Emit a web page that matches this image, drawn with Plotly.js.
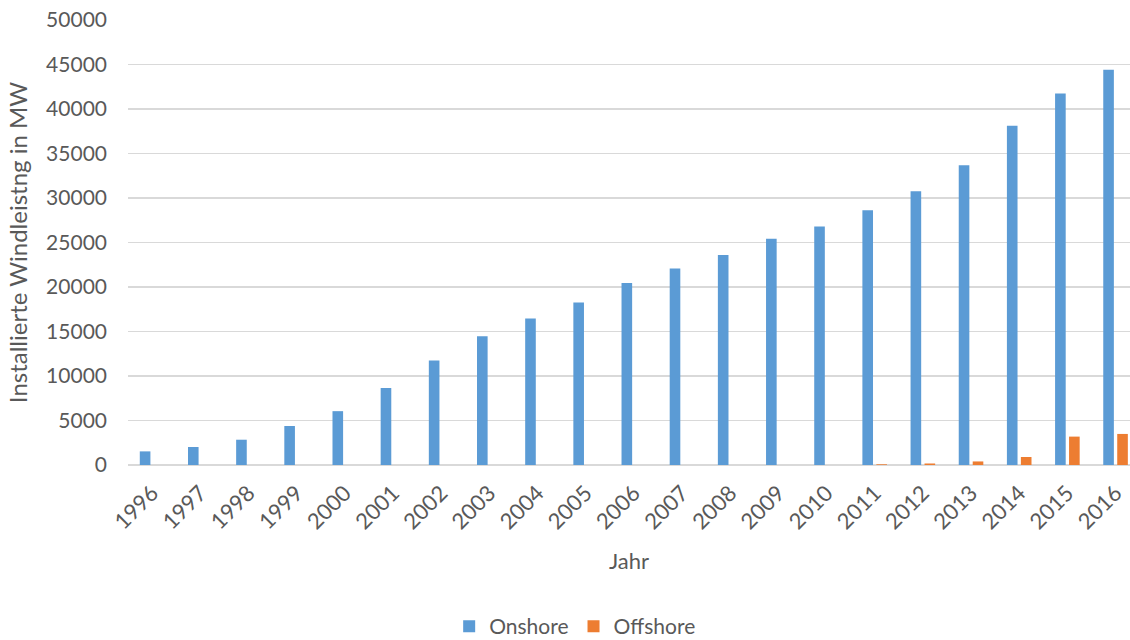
<!DOCTYPE html>
<html>
<head>
<meta charset="utf-8">
<script src="https://cdn.plot.ly/plotly-3.0.1.min.js"></script>
<style>
  html, body { margin: 0; padding: 0; background: #ffffff; }
  #chart { width: 1130px; height: 640px; }
</style>
</head>
<body>
<div id="chart"></div>
<script>
// Installed wind capacity in Germany (MW), onshore vs. offshore
const years = ['1996','1997','1998','1999','2000','2001','2002','2003','2004','2005','2006',
               '2007','2008','2009','2010','2011','2012','2013','2014','2015','2016'];
const onshore = [1530, 2020, 2840, 4380, 6050, 8650, 11750, 14480, 16450, 18250, 20450,
                 22070, 23600, 25420, 26790, 28620, 30760, 33680, 38110, 41750, 44410];
const offshore = [0, 0, 0, 0, 0, 0, 0, 0, 0, 0, 0,
                  0, 0, 0, 0, 80, 170, 400, 900, 3190, 3490];
const yTicks = [0, 5000, 10000, 15000, 20000, 25000, 30000, 35000, 40000, 45000, 50000];

const fontFamily = 'Lato, "Open Sans", sans-serif';
const textColor = '#595959';

const traces = [
  {
    type: 'bar', name: 'Onshore', x: years, y: onshore,
    marker: { color: '#5B9BD5' }, hoverinfo: 'x+y'
  },
  {
    type: 'bar', name: 'Offshore', x: years, y: offshore,
    marker: { color: '#ED7D31' }, hoverinfo: 'x+y'
  }
];

const layout = {
  width: 1130, height: 640,
  margin: { l: 128, r: 0, t: 20, b: 175 },
  paper_bgcolor: '#ffffff', plot_bgcolor: '#ffffff',
  font: { family: fontFamily, color: textColor, size: 20 },
  barmode: 'group',
  bargap: 0.42,
  bargroupgap: 0.24,
  showlegend: true,
  legend: {
    orientation: 'h', xref: 'container', yref: 'container',
    x: 0.509, xanchor: 'center', y: 0.053, yanchor: 'top',
    font: { size: 21, color: textColor, family: fontFamily },
    itemwidth: 30, tracegroupgap: 0, traceorder: 'normal'
  },
  xaxis: {
    type: 'category',
    range: [-0.5, 20.3],
    tickangle: -45,
    tickfont: { size: 22, color: textColor },
    showgrid: false, zeroline: false, showline: false,
    ticks: '', automargin: false,
    ticklabelstandoff: 10,
    title: { text: 'Jahr', font: { size: 22, color: textColor }, standoff: 20 }
  },
  yaxis: {
    range: [0, 50000],
    tickvals: yTicks,
    ticktext: yTicks.map(String),
    tickfont: { size: 21, color: textColor },
    showgrid: true, gridcolor: '#d9d9d9', gridwidth: 1.5,
    zeroline: true, zerolinecolor: '#d9d9d9', zerolinewidth: 2,
    showline: false, ticks: '', automargin: false,
    ticklabelstandoff: 20,
    title: { text: 'Installierte Windleistng in MW', font: { size: 24, color: textColor }, standoff: 11 }
  }
};

Plotly.newPlot('chart', traces, layout, { displayModeBar: false, staticPlot: true });
</script>
</body>
</html>
